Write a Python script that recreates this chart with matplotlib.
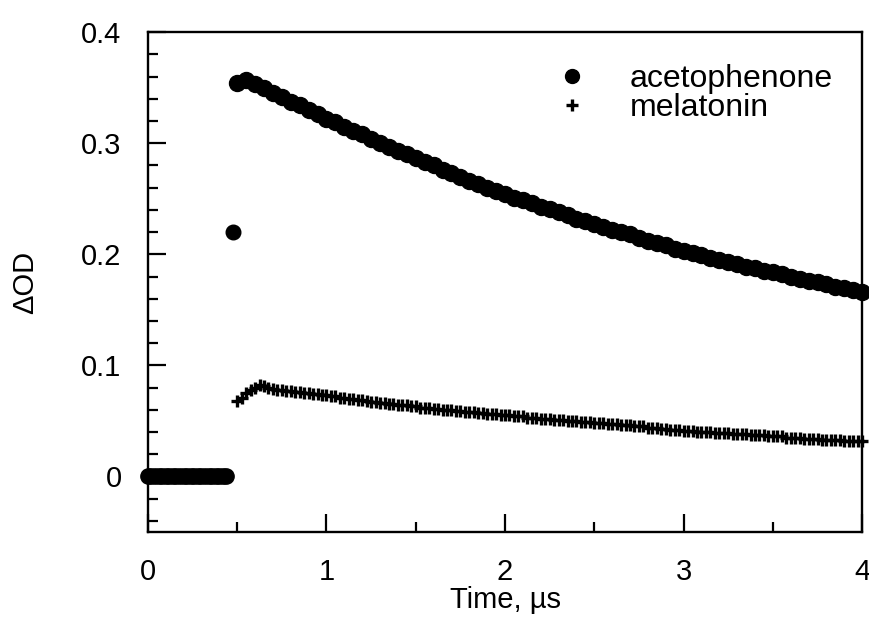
import numpy as np
import matplotlib
matplotlib.use("Agg")
import matplotlib.pyplot as plt
from matplotlib.ticker import MultipleLocator

plt.rcParams['font.family'] = ['Liberation Sans', 'DejaVu Sans']

# pre-trigger baseline (both signals at zero)
t_pre = np.arange(0, 0.45, 0.02)
od_pre = np.zeros(len(t_pre))

# acetophenone spike right after the flash
t_spike = [0.476]
od_spike = [0.220]

# acetophenone decay, sampled every 0.05 us from 0.50 to 4.00
t_aceto = np.linspace(0.5, 4.0, 71)
od_aceto = [
    0.354, 0.357, 0.353, 0.350, 0.345, 0.342, 0.337, 0.334, 0.330, 0.326,
    0.322, 0.319, 0.315, 0.311, 0.308, 0.304, 0.300, 0.297, 0.293, 0.290,
    0.287, 0.283, 0.280, 0.276, 0.273, 0.270, 0.266, 0.263, 0.260, 0.257,
    0.254, 0.251, 0.249, 0.246, 0.243, 0.241, 0.238, 0.235, 0.232, 0.230,
    0.227, 0.225, 0.222, 0.220, 0.218, 0.215, 0.212, 0.210, 0.208, 0.205,
    0.203, 0.201, 0.199, 0.197, 0.195, 0.193, 0.191, 0.189, 0.188, 0.185,
    0.184, 0.182, 0.180, 0.178, 0.176, 0.175, 0.173, 0.171, 0.170, 0.168,
    0.166,
]

# melatonin signal, sampled every 0.025 us from 0.50 to 4.00
t_mela = np.linspace(0.5, 4.0, 141)
od_mela = [
    0.068, 0.071, 0.075, 0.078, 0.080, 0.082, 0.081, 0.080, 0.079, 0.078,
    0.078, 0.077, 0.077, 0.076, 0.076, 0.075, 0.075, 0.074, 0.074, 0.073,
    0.073,
    0.072, 0.072, 0.071, 0.071, 0.070, 0.070, 0.069, 0.069, 0.068, 0.067,
    0.067, 0.066,
    0.066, 0.065, 0.065, 0.064, 0.064, 0.064, 0.063, 0.063, 0.062, 0.062,
    0.062, 0.061, 0.061, 0.060, 0.060, 0.060, 0.059, 0.059, 0.058, 0.058,
    0.058, 0.057, 0.057, 0.056, 0.056, 0.056, 0.055, 0.055,
    0.055, 0.054, 0.054, 0.054, 0.053, 0.053, 0.053, 0.052, 0.052, 0.052,
    0.051, 0.051, 0.051, 0.050, 0.050, 0.050, 0.049, 0.049, 0.049, 0.048,
    0.048, 0.048, 0.047, 0.047, 0.047, 0.046, 0.046, 0.046, 0.045, 0.045,
    0.045, 0.044, 0.044, 0.044, 0.043, 0.043, 0.042, 0.042, 0.042, 0.041,
    0.041, 0.041, 0.040, 0.040, 0.040, 0.040, 0.039, 0.039, 0.039, 0.039,
    0.038, 0.038, 0.038, 0.038, 0.037, 0.037, 0.037, 0.037, 0.036, 0.036,
    0.036, 0.036, 0.035, 0.035, 0.035, 0.035, 0.034, 0.034, 0.034, 0.034,
    0.033, 0.033, 0.033, 0.033, 0.033, 0.032, 0.032, 0.032, 0.032, 0.032,
]

fig = plt.figure(figsize=(8.7, 6.21), dpi=100)
ax = fig.add_axes([0.170, 0.1433, 0.821, 0.805])

# melatonin first so the dots sit on top at the baseline
ax.plot(t_mela, od_mela, ls='none', marker='+', ms=8, mew=2.4,
        color='black', clip_on=False, label='melatonin')
ax.plot(t_pre, od_pre, ls='none', marker='o', ms=11, color='black',
        clip_on=False)
ax.plot(t_spike, od_spike, ls='none', marker='o', ms=10.5, color='black')
ax.plot(t_aceto, od_aceto, ls='none', marker='o', ms=11.5,
        color='black', clip_on=False, label='acetophenone')

ax.set_xlim(0, 4)
ax.set_ylim(-0.05, 0.4)
ax.xaxis.set_major_locator(MultipleLocator(1))
ax.xaxis.set_minor_locator(MultipleLocator(0.5))
ax.yaxis.set_major_locator(MultipleLocator(0.1))
ax.yaxis.set_minor_locator(MultipleLocator(0.02))
ax.yaxis.set_major_formatter(lambda v, p: '0' if abs(v) < 1e-9 else f'{v:.1f}')

ax.tick_params(which='both', direction='in', top=False, right=False,
               width=1.6, labelsize=21)
ax.tick_params(which='major', length=13, pad=19)
ax.tick_params(which='minor', length=7)
for s in ax.spines.values():
    s.set_linewidth(1.7)

ax.set_xlabel('Time, µs', fontsize=21, labelpad=0)
ax.set_ylabel('ΔOD', fontsize=21, labelpad=30)

handles, labels = ax.get_legend_handles_labels()
leg = ax.legend(handles[::-1], labels[::-1], loc='upper right',
                bbox_to_anchor=(0.99, 0.98), frameon=False, fontsize=23,
                labelspacing=-0.05, handletextpad=1.2, handlelength=1.2,
                borderpad=0.2)
leg.legend_handles[0].set_markersize(10)
leg.legend_handles[1].set_markersize(8)

fig.savefig('out.png', dpi=100)
